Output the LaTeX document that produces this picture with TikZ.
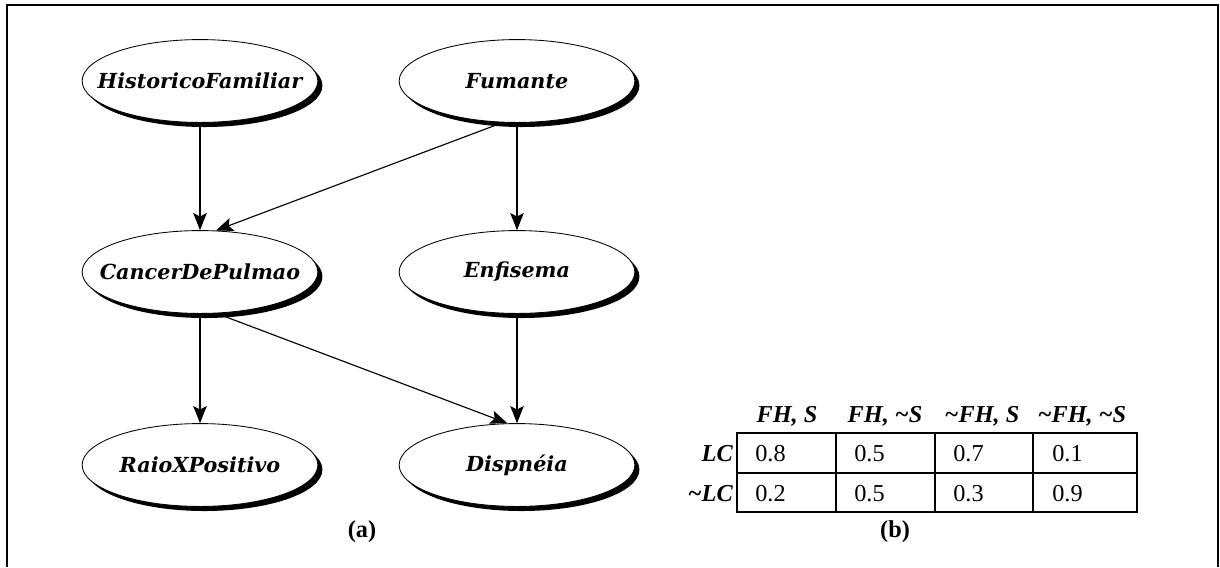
\documentclass[tikz,border=0pt]{standalone}
\usepackage{fontspec}
\setmainfont{Liberation Serif}
\newfontfamily\varfont{DejaVu Serif}
\usepackage{tikz}
\usetikzlibrary{
  arrows.meta,
  positioning,
  shapes.geometric,
  shadows
}

\begin{document}
\begin{tikzpicture}[
  x=0.7pt, y=-0.7pt,
  var/.style={ellipse, draw, line width=0.6pt, fill=white, minimum width=165pt, minimum height=58pt,
    inner xsep=-14pt, inner ysep=0pt, font=\varfont\bfseries\itshape\fontsize{14.5}{16}\selectfont,
    general shadow={fill=black, shadow xshift=3.2pt, shadow yshift=-3.2pt}},
  arrow/.style={-{Stealth[length=12pt, width=9.5pt, inset=2.5pt]}, line width=0.8pt},
  head/.style={font=\bfseries\itshape\fontsize{17}{19}\selectfont, inner sep=0pt},
  cell/.style={font=\fontsize{17}{19}\selectfont, inner sep=0pt, anchor=west},
  caption/.style={font=\bfseries\fontsize{17}{19}\selectfont, inner sep=0pt},
]
\useasboundingbox (0,0) rectangle (1220,567);
% Frame (bottom edge falls outside)
\draw[line width=1.3pt] (7,567) |- (1218,5) -- (1218,567);

% (a) Network
\node[var] (hf) at (200,81) {HistoricoFamiliar};
\node[var] (fum) at (517,81) {Fumante};
\node[var] (cdp) at (200,272) {CancerDePulmao};
\node[var] (enf) at (517,272) {Enfisema};
\node[var] (rx) at (200,465) {RaioXPositivo};
\node[var] (dis) at (517,465) {Dispnéia};

% Arrows
\draw[arrow] (hf) -- (cdp);
\draw[arrow] (fum.251) -- (cdp.69);
\draw[arrow] (fum) -- (enf);
\draw[arrow] (cdp) -- (rx);
\draw[arrow] (cdp.292) -- (dis.103);
\draw[arrow] (enf) -- (dis);

\node[caption] (capa) at (362,532) {(a)};

% (b) Table for LC
\draw[line width=1pt] (737,433) rectangle (1137,512);
\draw[line width=1pt] (737,473) -- (1137,473);
\foreach \x in {836,935,1033}
  \draw[line width=1pt] (\x,433) -- (\x,512);

\node[head] (h1) at (787,416) {FH, S};
\node[head] (h2) at (885,416) {FH, \textasciitilde S};
\node[head] (h3) at (982,416) {\textasciitilde FH, S};
\node[head] (h4) at (1082,416) {\textasciitilde FH, \textasciitilde S};

\node[head, anchor=east] (lc) at (733,454) {LC};
\node[head, anchor=east] (nlc) at (733,494) {\textasciitilde LC};

\foreach \v [count=\i] in {0.8,0.5,0.7,0.1}
  \node[cell] (t\i) at ({737+(\i-1)*99+18},454) {\v};
\foreach \v [count=\i] in {0.2,0.5,0.3,0.9}
  \node[cell] (f\i) at ({737+(\i-1)*99+18},494) {\v};

\node[caption] (capb) at (895,532) {(b)};
\end{tikzpicture}
\end{document}
